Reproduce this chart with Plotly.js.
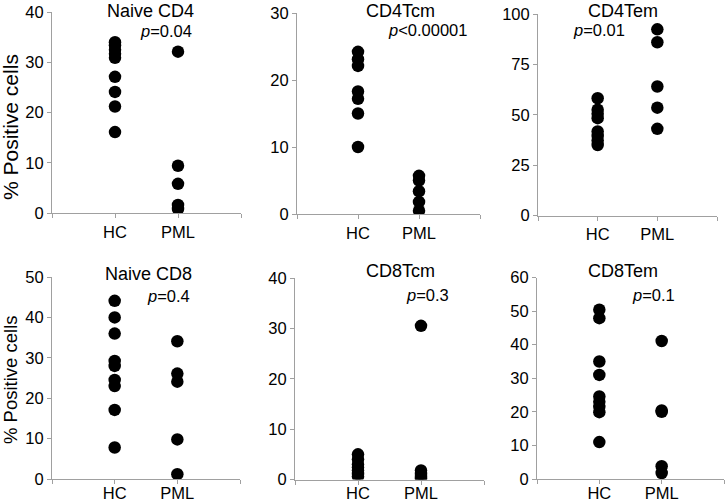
<!DOCTYPE html>
<html>
<head>
<meta charset="utf-8">
<script src="https://cdn.plot.ly/plotly-3.0.1.min.js"></script>
<style>html,body{margin:0;padding:0;background:#fff}#chart{width:727px;height:503px}</style>
</head>
<body>
<div id="chart"></div>
<script>
// ---- data ----
var groups = ["HC", "PML"];
var panelTitles = ["Naive CD4", "CD4Tcm", "CD4Tem", "Naive CD8", "CD8Tcm", "CD8Tem"];
var pLabels = ["<i>p</i>=0.04", "<i>p</i><0.00001", "<i>p</i>=0.01", "<i>p</i>=0.4", "<i>p</i>=0.3", "<i>p</i>=0.1"];
var yTitle = "% Positive cells";

var naiveCD4_HC  = [34.0, 33.4, 32.5, 31.7, 30.9, 27.1, 24.1, 21.2, 16.1];
var naiveCD4_PML = [32.1, 9.4, 5.8, 1.6, 0.8];
var cd4Tcm_HC    = [24.2, 23.1, 22.1, 18.3, 17.2, 15.0, 10.0];
var cd4Tcm_PML   = [5.7, 5.0, 3.4, 1.8, 0.5];
var cd4Tem_HC    = [58.2, 52.5, 50.5, 48.3, 41.7, 39.5, 37.2, 35.0];
var cd4Tem_PML   = [92.4, 86.0, 64.0, 53.5, 43.0];
var naiveCD8_HC  = [44.1, 40.0, 36.0, 29.2, 28.0, 24.5, 23.0, 17.1, 7.8];
var naiveCD8_PML = [34.1, 26.1, 24.1, 9.8, 1.2];
var cd8Tcm_HC    = [5.0, 4.0, 3.0, 2.4, 1.8, 1.1, 0.6];
var cd8Tcm_PML   = [30.5, 1.8, 1.1, 0.5, 0.2];
var cd8Tem_HC    = [50.4, 47.9, 35.0, 31.0, 24.6, 23.0, 21.5, 19.9, 11.0];
var cd8Tem_PML   = [41.1, 20.4, 20.0, 3.8, 1.8];

var yMax  = [40, 30, 100, 50, 40, 60];
var yStep = [10, 10, 25, 10, 10, 10];

var seriesHC  = [naiveCD4_HC, cd4Tcm_HC, cd4Tem_HC, naiveCD8_HC, cd8Tcm_HC, cd8Tem_HC];
var seriesPML = [naiveCD4_PML, cd4Tcm_PML, cd4Tem_PML, naiveCD8_PML, cd8Tcm_PML, cd8Tem_PML];

// ---- layout (pixel boxes of each panel) ----
var W = 727, H = 503;
var boxes = [
  {x0: 52,  x1: 241, y0: 12,  y1: 213},
  {x0: 297, x1: 480, y0: 13,  y1: 214},
  {x0: 538, x1: 717, y0: 14,  y1: 215.5},
  {x0: 52,  x1: 240, y0: 277, y1: 479},
  {x0: 295, x1: 484, y0: 278, y1: 479.5},
  {x0: 537, x1: 724, y0: 277.5, y1: 479}
];
var titlePos = [[150, 11], [400, 11], [623, 11], [148, 274], [400, 271], [623, 271]];
var pPos = [[166, 31], [428, 30], [599, 30], [168, 296], [428, 295], [653, 295]];

var font = "Liberation Sans, Arial, sans-serif";
var axisColor = "#a0a0a0";
var data = [];
var layout = {
  width: W, height: H,
  margin: {l: 0, r: 0, t: 0, b: 0},
  paper_bgcolor: "#fff", plot_bgcolor: "#fff",
  showlegend: false,
  font: {family: font, color: "#000", size: 16},
  annotations: []
};

for (var i = 0; i < 6; i++) {
  var n = i + 1;
  var xa = "x" + (n === 1 ? "" : n), ya = "y" + (n === 1 ? "" : n);
  var hc = seriesHC[i], pml = seriesPML[i];
  var xs = [], ys = [];
  hc.forEach(function (v) { xs.push(1); ys.push(v); });
  pml.forEach(function (v) { xs.push(2); ys.push(v); });
  data.push({
    type: "scatter", mode: "markers", x: xs, y: ys,
    xaxis: xa, yaxis: ya,
    marker: {color: "#000", size: 12.5, line: {width: 0}},
    hoverinfo: "skip"
  });
  var b = boxes[i];
  var tv = [];
  for (var t = 0; t <= yMax[i]; t += yStep[i]) tv.push(t);
  layout["xaxis" + (n === 1 ? "" : n)] = {
    domain: [b.x0 / W, b.x1 / W], range: [0, 3], anchor: ya,
    tickvals: [0, 1, 2, 3], ticktext: ["", groups[0], groups[1], ""],
    showgrid: false, zeroline: false, showline: true, linecolor: axisColor, linewidth: 1,
    ticks: "outside", ticklen: 4, tickcolor: axisColor,
    tickfont: {size: 16.5, family: font, color: "#000"},
    ticklabelstandoff: (i >= 3 ? -5 : 0),
    fixedrange: true
  };
  layout["yaxis" + (n === 1 ? "" : n)] = {
    domain: [1 - b.y1 / H, 1 - b.y0 / H], range: [0, yMax[i]], anchor: xa,
    tickvals: tv, showgrid: false, zeroline: false, showline: true, linecolor: axisColor, linewidth: 1,
    ticks: "outside", ticklen: 4, tickcolor: axisColor,
    tickfont: {size: 16.5, family: font, color: "#000"},
    fixedrange: true
  };
  layout.annotations.push({
    xref: "paper", yref: "paper", x: titlePos[i][0] / W, y: 1 - titlePos[i][1] / H,
    xanchor: "center", yanchor: "middle", showarrow: false, text: panelTitles[i],
    font: {size: 18, family: font, color: "#000"}
  });
  layout.annotations.push({
    xref: "paper", yref: "paper", x: pPos[i][0] / W, y: 1 - pPos[i][1] / H,
    xanchor: "center", yanchor: "middle", showarrow: false, text: pLabels[i],
    font: {size: 16.5, family: font, color: "#000"}
  });
}
layout.annotations.push({
  xref: "paper", yref: "paper", x: 10 / W, y: 1 - 127 / H, textangle: -90,
  xanchor: "center", yanchor: "middle", showarrow: false, text: yTitle,
  font: {size: 21, family: font, color: "#000"}
});
layout.annotations.push({
  xref: "paper", yref: "paper", x: 10 / W, y: 1 - 380 / H, textangle: -90,
  xanchor: "center", yanchor: "middle", showarrow: false, text: yTitle,
  font: {size: 18.5, family: font, color: "#000"}
});

Plotly.newPlot("chart", data, layout, {displayModeBar: false, staticPlot: true});
</script>
</body>
</html>
